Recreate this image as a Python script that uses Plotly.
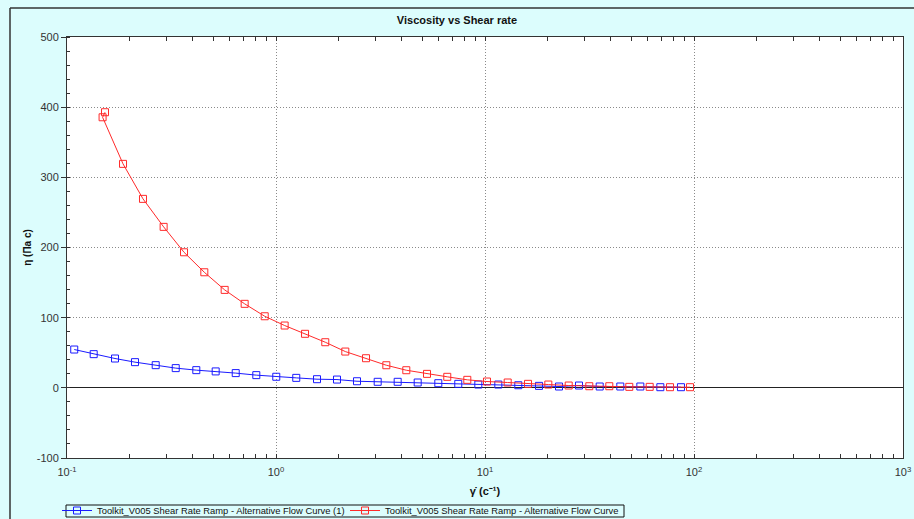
import plotly.graph_objects as go

# Shear rate (1/s) and viscosity (Pa s) values
shear_blue = [0.1083, 0.1342, 0.1697, 0.2115, 0.2657, 0.3313, 0.4156, 0.5145, 0.6417, 0.805,
              1.003, 1.250, 1.571, 1.958, 2.441, 3.066, 3.821, 4.764, 5.978, 7.45,
              9.29, 11.58, 14.43, 18.13, 22.60, 28.17, 35.38, 44.40, 55.36, 69.01, 86.64]
visc_blue = [54.6, 48.0, 41.8, 36.6, 32.3, 28.1, 25.2, 23.4, 21.0, 18.1,
             15.8, 14.2, 12.3, 11.8, 9.4, 8.6, 8.6, 7.6, 6.6, 5.7,
             4.7, 4.7, 3.7, 2.8, 1.9, 3.3, 1.9, 1.9, 1.9, 0.9, 0.9]

shear_red = [0.152, 0.148, 0.1854, 0.231, 0.290, 0.363, 0.454, 0.568, 0.708, 0.883,
             1.100, 1.377, 1.721, 2.146, 2.696, 3.372, 4.202, 5.279, 6.600, 8.229,
             10.22, 12.84, 16.06, 20.09, 25.15, 31.55, 39.33, 49.02, 61.38, 76.78, 95.70]
visc_red = [392.8, 385.6, 319.2, 269.3, 229.4, 193.2, 164.7, 139.6, 119.7, 102.0,
            88.8, 77.0, 65.0, 51.7, 42.2, 32.2, 25.1, 19.9, 15.7, 11.4,
            9.0, 7.6, 5.7, 4.7, 3.3, 2.3, 2.3, 1.4, 1.4, 0.9, 0.9]

name_blue = "Toolkit_V005 Shear Rate Ramp - Alternative Flow Curve (1)"
name_red = "Toolkit_V005 Shear Rate Ramp - Alternative Flow Curve"

x_tickvals = [0.1, 1, 10, 100, 1000]
x_ticktext = ["10<sup>-1</sup>", "10<sup>0</sup>", "10<sup>1</sup>", "10<sup>2</sup>", "10<sup>3</sup>"]
x_minor = [m * d for d in [0.1, 1, 10, 100] for m in range(2, 10)]

y_tickvals = [-100, 0, 100, 200, 300, 400, 500]
y_ticktext = ["-100", "0", "100", "200", "300", "400", "500"]

BG = "#dcfdfd"
FONT = "Liberation Sans, Arial, sans-serif"
GRID = "#8a8a8a"

# plot-area pixel frame used to convert page pixels into paper coordinates
L, R, T, B = 67, 903, 37, 458
def px(x):
    return (x - L) / (R - L)
def py(y):
    return (B - y) / (B - T)

fig = go.Figure()
fig.add_trace(go.Scatter(
    x=shear_blue, y=visc_blue, name=name_blue, mode="lines+markers",
    line=dict(color="#1a1aff", width=1),
    marker=dict(symbol="square-open", size=7, color="#1a1aff", line=dict(width=1)),
))
fig.add_trace(go.Scatter(
    x=shear_red, y=visc_red, name=name_red, mode="lines+markers",
    line=dict(color="#ff2a2a", width=1),
    marker=dict(symbol="square-open", size=7, color="#ff2a2a", line=dict(width=1)),
))

fig.update_layout(
    width=914, height=519,
    margin=dict(l=L, r=914 - R, t=T, b=519 - B, autoexpand=False),
    paper_bgcolor=BG, plot_bgcolor="white",
    font=dict(family=FONT, size=11, color="#333333"),
    title=dict(text="<b>Viscosity vs Shear rate</b>", x=0.5, xanchor="center",
               y=1 - 20 / 519, yanchor="middle",
               font=dict(family=FONT, size=11, color="#111111")),
    showlegend=True,
    legend=dict(orientation="h", x=px(57), xanchor="left", y=py(496), yanchor="top",
                bgcolor="rgba(0,0,0,0)", borderwidth=0,
                font=dict(family=FONT, size=9.4, color="#111111"),
                itemwidth=30, tracegroupgap=0,
                entrywidth=243, entrywidthmode="pixels"),
    xaxis=dict(
        type="log", range=[-1, 3],
        tickmode="array", tickvals=x_tickvals, ticktext=x_ticktext,
        ticks="inside", ticklen=4, tickcolor="#333333", ticklabelstandoff=4,
        minor=dict(tickmode="array", tickvals=x_minor, ticks="inside", ticklen=4,
                   tickcolor="#333333", showgrid=False),
        showgrid=True, gridcolor=GRID, griddash="1px,2px", gridwidth=1,
        showline=True, linecolor="#333333", linewidth=1, mirror="ticks",
        zeroline=False,
        tickfont=dict(family=FONT, size=11, color="#333333"),
        title=dict(text="<b>γ̇ (c⁻¹)</b>", standoff=10,
                   font=dict(family=FONT, size=11, color="#111111")),
    ),
    yaxis=dict(
        range=[-100, 500],
        tickmode="array", tickvals=y_tickvals, ticktext=y_ticktext,
        ticks="outside", ticklen=5, tickcolor="#333333",
        minor=dict(dtick=20, tick0=0, ticks="inside", ticklen=3, tickcolor="#333333", showgrid=False),
        showgrid=True, gridcolor=GRID, griddash="1px,2px", gridwidth=1,
        showline=True, linecolor="#333333", linewidth=1, mirror=True,
        zeroline=True, zerolinecolor="#222222", zerolinewidth=1,
        tickfont=dict(family=FONT, size=11, color="#333333"),
        title=dict(text="<b>η (Па с)</b>", standoff=3,
                   font=dict(family=FONT, size=10, color="#111111")),
    ),
)

# outer frame of the chart (top and left edges visible in the reference)
fig.add_shape(type="line", xref="paper", yref="paper",
              x0=px(10), x1=1.2, y0=py(8), y1=py(8),
              line=dict(color="#333333", width=1.5))
fig.add_shape(type="line", xref="paper", yref="paper",
              x0=px(10), x1=px(10), y0=py(8), y1=-0.3,
              line=dict(color="#333333", width=1.5))
# legend box
fig.add_shape(type="rect", xref="paper", yref="paper",
              x0=px(66), x1=px(624), y0=py(505), y1=py(517),
              line=dict(color="#111111", width=1), fillcolor="rgba(0,0,0,0)")

fig.write_html("out.html")
